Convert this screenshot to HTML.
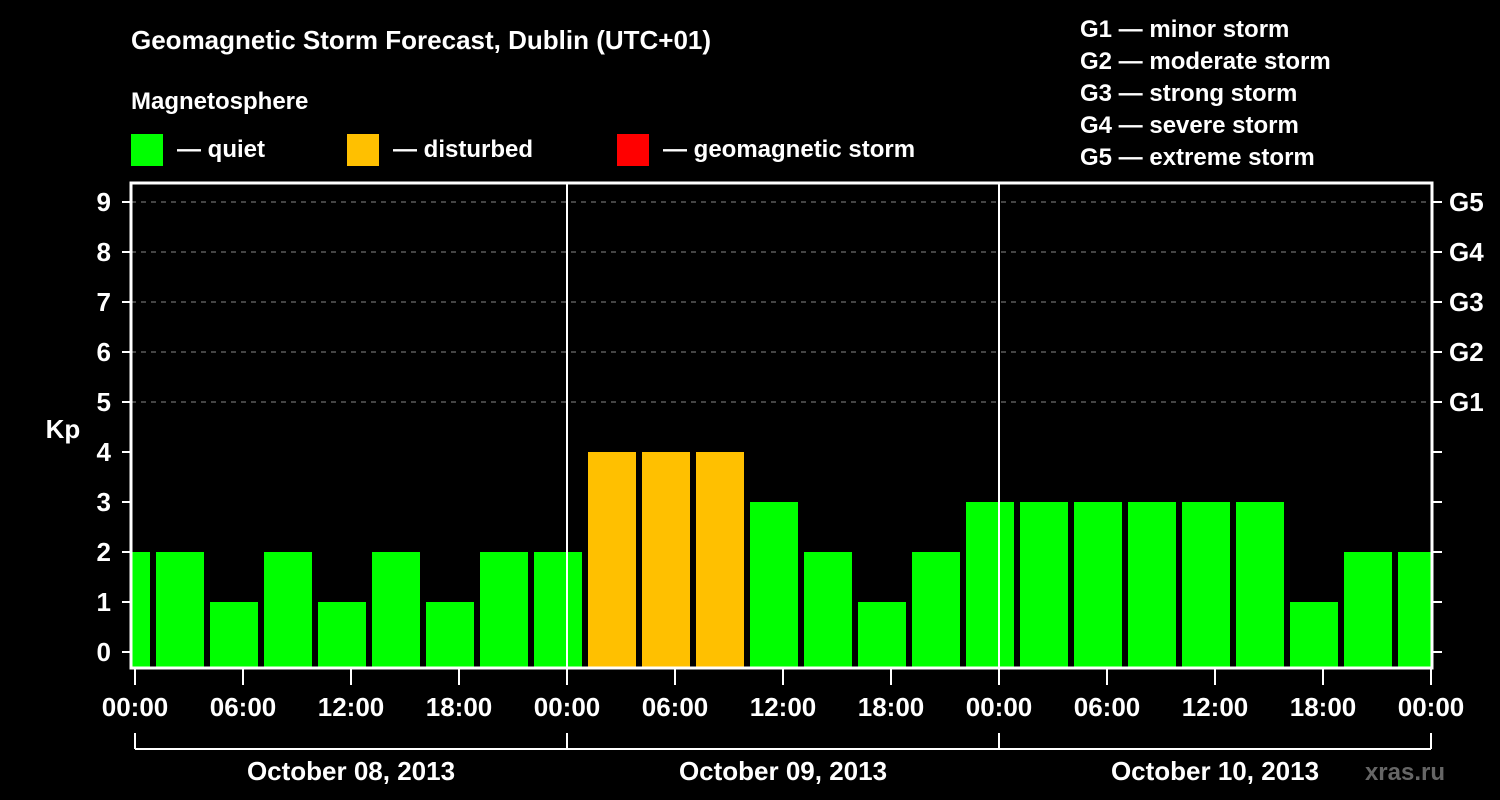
<!DOCTYPE html>
<html><head><meta charset="utf-8"><style>
body{margin:0;background:#000;}
svg{display:block;font-family:"Liberation Sans",sans-serif;font-weight:bold;}
</style></head><body>
<svg id="c" width="1500" height="800" viewBox="0 0 1500 800">
<rect width="1500" height="800" fill="#000"/>
<text x="131" y="49" fill="#fff" font-size="26">Geomagnetic Storm Forecast, Dublin (UTC+01)</text>
<text x="131" y="109" fill="#fff" font-size="24">Magnetosphere</text>
<g><rect x="131" y="134" width="32" height="32" fill="#00ff00"/><text x="177" y="157" fill="#fff" font-size="24">— quiet</text></g>
<g><rect x="347" y="134" width="32" height="32" fill="#ffc000"/><text x="393" y="157" fill="#fff" font-size="24">— disturbed</text></g>
<g><rect x="617" y="134" width="32" height="32" fill="#ff0000"/><text x="663" y="157" fill="#fff" font-size="24">— geomagnetic storm</text></g>
<g fill="#fff" font-size="24">
<text x="1080" y="37">G1 — minor storm</text>
<text x="1080" y="69">G2 — moderate storm</text>
<text x="1080" y="101">G3 — strong storm</text>
<text x="1080" y="133">G4 — severe storm</text>
<text x="1080" y="165">G5 — extreme storm</text>
</g>
<text x="63" y="438" fill="#fff" font-size="26" text-anchor="middle">Kp</text>
<text x="1445" y="780" fill="#666" font-size="24" text-anchor="end">xras.ru</text>
<defs><clipPath id="clip"><rect x="131" y="183" width="1301" height="485"/></clipPath></defs>
<g id="grid"></g>
<g id="bars" clip-path="url(#clip)"></g>
<g id="axes"></g>
</svg>
<script>
const kpValues=[2,2,1,2,1,2,1,2,2,4,4,4,3,2,1,2,3,3,3,3,3,3,1,2,2];
const yTicks=[0,1,2,3,4,5,6,7,8,9];
const gLabels=["G1","G2","G3","G4","G5"];
const gLevels=[5,6,7,8,9];
const timeLabels=["00:00","06:00","12:00","18:00","00:00","06:00","12:00","18:00","00:00","06:00","12:00","18:00","00:00"];
const dayLabels=["October 08, 2013","October 09, 2013","October 10, 2013"];
const NS="http://www.w3.org/2000/svg";
const X0=135,PXH=18,Y0=652,PXK=50,L=131,R=1432,T=183,B=668;
const xs=h=>X0+h*PXH, ys=k=>Y0-k*PXK;
function mk(tag,attrs,parent){const e=document.createElementNS(NS,tag);for(const k in attrs)e.setAttribute(k,attrs[k]);parent.appendChild(e);return e;}
const grid=document.getElementById('grid'),bars=document.getElementById('bars'),axes=document.getElementById('axes');
yTicks.forEach(k=>{if(k>0&&k<=9&&gLevels.includes(k)){const g=mk('line',{x1:L,x2:R,y1:ys(k),y2:ys(k),stroke:'#888','stroke-dasharray':'5,5','stroke-width':1},grid);

}});
kpValues.forEach((v,i)=>{const c=-0.5+3*i;const col=v>=5?'#ff0000':(v>=4?'#ffc000':'#00ff00');
const r=mk('rect',{x:xs(c)-24,y:ys(v),width:48,height:B-ys(v),fill:col},bars);

});
[1,2].forEach(d=>{const l=mk('line',{x1:xs(24*d),x2:xs(24*d),y1:T,y2:B,stroke:'#fff','stroke-width':2},axes);

});
const fr=mk('rect',{x:L,y:T,width:R-L,height:B-T,fill:'none',stroke:'#fff','stroke-width':3},axes);


yTicks.forEach(k=>{mk('line',{x1:122,x2:L,y1:ys(k),y2:ys(k),stroke:'#fff','stroke-width':2},axes);
mk('line',{x1:R,x2:1442,y1:ys(k),y2:ys(k),stroke:'#fff','stroke-width':2},axes);
const t=mk('text',{x:111,y:ys(k)+9,fill:'#fff','font-size':26,'text-anchor':'end'},axes);t.textContent=k;

});
gLabels.forEach((g,i)=>{const t=mk('text',{x:1449,y:ys(gLevels[i])+9,fill:'#fff','font-size':26},axes);t.textContent=g;

});
timeLabels.forEach((s,i)=>{const x=xs(6*i);mk('line',{x1:x,x2:x,y1:B,y2:685,stroke:'#fff','stroke-width':2},axes);
const t=mk('text',{x:x,y:716,fill:'#fff','font-size':26,'text-anchor':'middle'},axes);t.textContent=s;

});
mk('line',{x1:xs(0),x2:xs(72),y1:749,y2:749,stroke:'#fff','stroke-width':2},axes);
[0,1,2,3].forEach(d=>mk('line',{x1:xs(24*d),x2:xs(24*d),y1:733,y2:749,stroke:'#fff','stroke-width':2},axes));
dayLabels.forEach((s,i)=>{const t=mk('text',{x:xs(24*i+12),y:780,fill:'#fff','font-size':26,'text-anchor':'middle'},axes);t.textContent=s;

});
</script>
</body></html>
